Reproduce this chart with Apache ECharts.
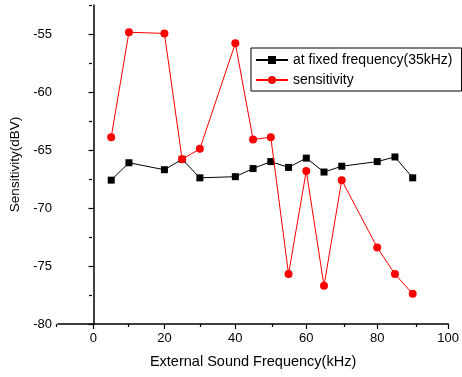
<!DOCTYPE html>
<html>
<head>
<meta charset="utf-8">
<script src="https://cdn.jsdelivr.net/npm/echarts@6/dist/echarts.min.js"></script>
<style>
  html, body { margin: 0; padding: 0; background: #fff; }
  #chart { width: 462px; height: 377px; }
</style>
</head>
<body>
<div id="chart"></div>
<script>
const freqFixed = [5, 10, 20, 25, 30, 40, 45, 50, 55, 60, 65, 70, 80, 85, 90];
const fixedValues = [-67.6, -66.1, -66.7, -65.8, -67.4, -67.3, -66.6, -66.0, -66.5, -65.7, -66.9, -66.4, -66.0, -65.6, -67.4];

const freqSens = [5, 10, 20, 25, 30, 40, 45, 50, 55, 60, 65, 70, 80, 85, 90];
const sensValues = [-63.9, -54.85, -54.95, -65.8, -64.9, -55.8, -64.1, -63.9, -75.7, -66.8, -76.7, -67.6, -73.4, -75.7, -77.4];

const xMajorTicks = [0, 20, 40, 60, 80, 100];
const xMinorTicks = [-10, 10, 30, 50, 70, 90];
const yMajorTicks = [-80, -75, -70, -65, -60, -55];
const yMinorTicks = [-77.5, -72.5, -67.5, -62.5, -57.5, -52.5];

const font = "Arial, 'Liberation Sans', sans-serif";
const pairs = (xs, ys) => xs.map((x, i) => [x, ys[i]]);

const chart = echarts.init(document.getElementById("chart"), null, { renderer: "canvas" });

const gridBox = { left: 56, right: 10, top: 5, bottom: 53 };
const tickStyle = { color: "#000", width: 1.2 };
const xRange = { type: "value", min: -10, max: 100, splitLine: { show: false } };
const yRange = { type: "value", min: -80, max: -52.5, splitLine: { show: false } };

chart.setOption({
  animation: false,
  backgroundColor: "#fff",
  // second grid sits on top of the first one and only carries the minor ticks
  grid: [Object.assign({}, gridBox), Object.assign({}, gridBox)],
  legend: {
    orient: "vertical",
    left: 251,
    top: 48,
    padding: [5, 9, 4, 4],
    borderColor: "#000",
    borderWidth: 1,
    itemWidth: 32,
    itemHeight: 10,
    itemGap: 6,
    textStyle: { fontFamily: font, fontSize: 14, color: "#000" },
    data: ["at fixed frequency(35kHz)", "sensitivity"]
  },
  xAxis: [
    Object.assign({}, xRange, {
      gridIndex: 0,
      name: "External Sound Frequency(kHz)",
      nameLocation: "middle",
      nameGap: 30,
      nameTextStyle: { fontFamily: font, fontSize: 14.5, color: "#000" },
      axisLine: { show: true, lineStyle: { color: "#000", width: 1.5 } },
      axisTick: { show: true, length: 5, customValues: xMajorTicks, lineStyle: tickStyle },
      axisLabel: { customValues: xMajorTicks, fontFamily: font, fontSize: 13, color: "#000", margin: 8 }
    }),
    Object.assign({}, xRange, {
      gridIndex: 1,
      position: "bottom",
      axisLine: { show: false },
      axisTick: { show: true, length: 3, customValues: xMinorTicks, lineStyle: tickStyle },
      axisLabel: { show: false }
    })
  ],
  yAxis: [
    Object.assign({}, yRange, {
      gridIndex: 0,
      name: "Sensitivity(dBV)",
      nameLocation: "middle",
      nameGap: 36,
      nameTextStyle: { fontFamily: font, fontSize: 13.5, color: "#000" },
      axisLine: { show: true, lineStyle: { color: "#000", width: 1.5 } },
      axisTick: { show: true, length: 5, customValues: yMajorTicks, lineStyle: tickStyle },
      axisLabel: { customValues: yMajorTicks, fontFamily: font, fontSize: 13, color: "#000", margin: 6 }
    }),
    Object.assign({}, yRange, {
      gridIndex: 1,
      position: "left",
      axisLine: { show: false },
      axisTick: { show: true, length: 3, customValues: yMinorTicks, lineStyle: tickStyle },
      axisLabel: { show: false }
    })
  ],
  series: [
    {
      name: "at fixed frequency(35kHz)",
      type: "line",
      xAxisIndex: 0,
      yAxisIndex: 0,
      data: pairs(freqFixed, fixedValues),
      symbol: "rect",
      symbolSize: 7,
      itemStyle: { color: "#000" },
      lineStyle: { color: "#000", width: 1 },
      z: 3
    },
    {
      name: "sensitivity",
      type: "line",
      xAxisIndex: 0,
      yAxisIndex: 0,
      data: pairs(freqSens, sensValues),
      symbol: "circle",
      symbolSize: 8,
      itemStyle: { color: "#ff0000" },
      lineStyle: { color: "#ff0000", width: 1 },
      z: 4
    }
  ]
});
</script>
</body>
</html>
